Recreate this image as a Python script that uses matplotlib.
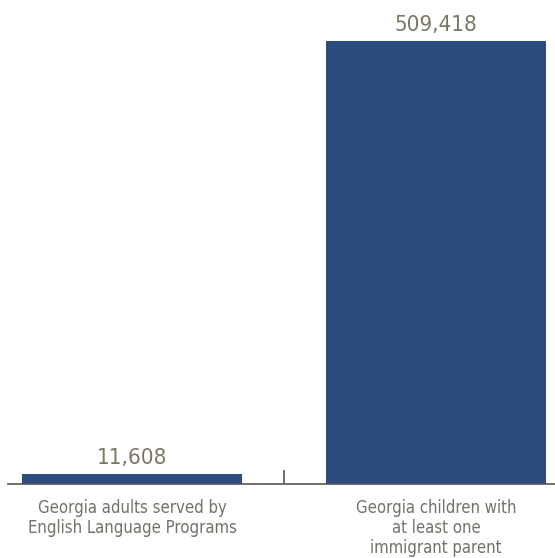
import matplotlib.pyplot as plt

categories = ["Georgia adults served by\nEnglish Language Programs",
              "Georgia children with\nat least one\nimmigrant parent"]
values = [11608, 509418]
value_labels = ["11,608", "509,418"]

plt.rcParams['font.family'] = ['DejaVu Sans']
plt.rcParams['font.stretch'] = 'condensed'

fig = plt.figure(figsize=(5.55, 5.58), dpi=100)
ax = fig.add_axes([0, 74 / 558, 1, 484 / 558])

bar_color = "#2b4c7c"
value_color = "#7a7662"
label_color = "#747168"

x = list(range(len(values)))
ax.bar(x, values, width=0.724, color=bar_color)

for xi, v, lab in zip(x, values, value_labels):
    ax.text(xi, v + 7000, lab, ha="center", va="bottom",
            fontsize=16, color=value_color)

for xi, cat in zip(x, categories):
    ax.text(xi, -17500, cat, ha="center", va="top",
            fontsize=12, color=label_color, linespacing=1.15)

ax.set_xlim(-0.434, 1.391)
ax.set_ylim(0, 556500)

for s in ["top", "right", "left"]:
    ax.spines[s].set_visible(False)
ax.spines["bottom"].set_color("#555555")
ax.spines["bottom"].set_linewidth(1.2)
ax.spines["bottom"].set_bounds(-0.408, 1.391)

ax.set_yticks([])
ax.set_xticks([0.5])
ax.set_xticklabels([""])
ax.tick_params(axis="x", direction="in", length=10, width=1.2, color="#555555")

plt.savefig("out.png")
